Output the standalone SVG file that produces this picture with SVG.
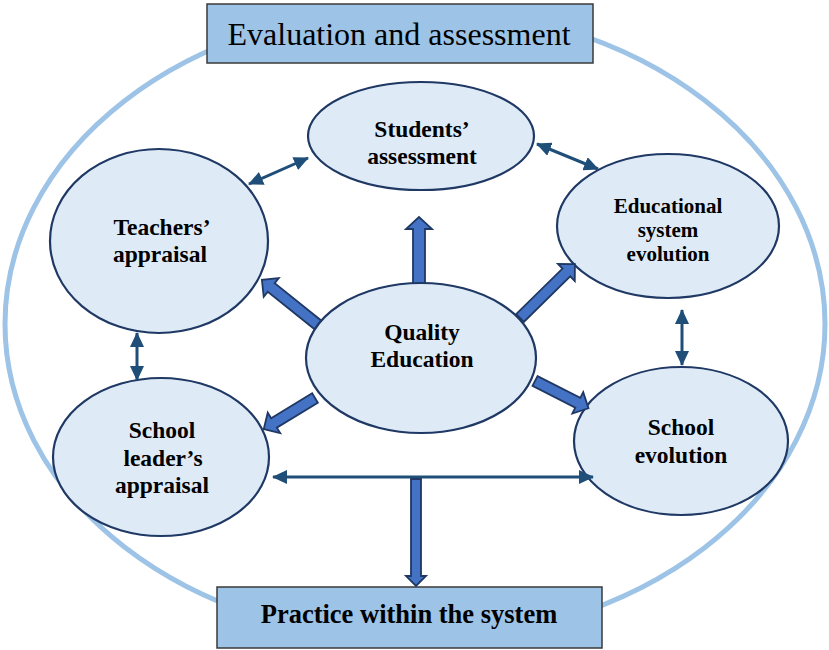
<svg xmlns="http://www.w3.org/2000/svg" width="829" height="650" viewBox="0 0 829 650">
  <style>
    .ring { fill: none; stroke: #9DC3E6; stroke-width: 5; }
    .box { fill: #9DC3E6; stroke: #3A3A3A; stroke-width: 1.5; }
    .node { fill: #DEEBF7; stroke: #1F3864; stroke-width: 2.2; }
    text { font-family: 'Liberation Serif', 'Times New Roman', serif; fill: #000; text-anchor: middle; }
    .lbl { font-weight: bold; font-size: 23.5px; }
    .link { stroke: #1F4E79; stroke-width: 3; fill: none; marker-start: url(#tip); marker-end: url(#tip); }
    .block { fill: #4472C4; stroke: #1F3864; stroke-width: 1.8; stroke-linejoin: miter; }
  </style>
  <defs>
    <marker id="tip" markerUnits="userSpaceOnUse" viewBox="0 -7 15 14" refX="14" refY="0" markerWidth="15" markerHeight="14" orient="auto-start-reverse">
      <path d="M0,-7 L15,0 L0,7 Z" fill="#1F4E79"/>
    </marker>
  </defs>

  <rect width="829" height="650" fill="#FFFFFF"/>

  <!-- outer frame ring -->
  <ellipse class="ring" cx="415" cy="324" rx="410" ry="316"/>

  <!-- header and footer boxes -->
  <g id="evaluation">
    <rect class="box" x="207" y="4" width="386" height="59"/>
    <text x="399" y="45" font-size="32">Evaluation and assessment</text>
  </g>
  <g id="practice">
    <rect class="box" x="217" y="587" width="385" height="61"/>
    <text class="lbl" x="409" y="623" style="font-size:26.5px">Practice within the system</text>
  </g>

  <!-- outer nodes -->
  <g id="students">
    <ellipse class="node" cx="421" cy="136" rx="113" ry="54"/>
    <text class="lbl" x="422" y="137">Students’</text>
    <text class="lbl" x="422" y="164">assessment</text>
  </g>
  <g id="teachers">
    <ellipse class="node" cx="159" cy="241" rx="109" ry="92"/>
    <text class="lbl" x="162" y="235">Teachers’</text>
    <text class="lbl" x="160" y="262">appraisal</text>
  </g>
  <g id="educational">
    <ellipse class="node" cx="668" cy="226" rx="111" ry="72"/>
    <text class="lbl" x="668" y="213" style="font-size:21px">Educational</text>
    <text class="lbl" x="668" y="237" style="font-size:21px">system</text>
    <text class="lbl" x="668" y="261" style="font-size:21px">evolution</text>
  </g>
  <g id="leader">
    <ellipse class="node" cx="161" cy="457" rx="108" ry="79"/>
    <text class="lbl" x="162" y="438">School</text>
    <text class="lbl" x="163" y="466">leader’s</text>
    <text class="lbl" x="162" y="493">appraisal</text>
  </g>
  <g id="school">
    <ellipse class="node" cx="681" cy="441" rx="107" ry="74"/>
    <text class="lbl" x="681" y="435">School</text>
    <text class="lbl" x="681" y="463">evolution</text>
  </g>

  <!-- connectors -->
  <g id="connectors">
    <line class="link" x1="249" y1="184" x2="308" y2="158"/>
    <line class="link" x1="537" y1="144" x2="598" y2="169"/>
    <line class="link" x1="682" y1="310" x2="682" y2="365"/>
    <line class="link" x1="137" y1="333" x2="137" y2="380"/>
    <line class="link" x1="273" y1="477" x2="593" y2="477"/>
    <!-- block arrows from the centre, drawn along +x then rotated -->
    <path class="block" transform="translate(419,290) rotate(-90)" d="M0,-6 L61,-6 L61,-13 L73,0 L61,13 L61,6 L0,6 Z"/>
    <path class="block" transform="translate(318,325) rotate(-141.2)" d="M0,-5.5 L60,-5.5 L60,-12 L72,0 L60,12 L60,5.5 L0,5.5 Z"/>
    <path class="block" transform="translate(520,318) rotate(-44.5)" d="M0,-5.5 L65,-5.5 L65,-12 L77,0 L65,12 L65,5.5 L0,5.5 Z"/>
    <path class="block" transform="translate(315,398) rotate(148.7)" d="M0,-5.5 L48,-5.5 L48,-12 L60,0 L48,12 L48,5.5 L0,5.5 Z"/>
    <path class="block" transform="translate(535,381) rotate(27)" d="M0,-5.5 L48,-5.5 L48,-12 L60,0 L48,12 L48,5.5 L0,5.5 Z"/>
    <path class="block" transform="translate(416,479) rotate(90)" d="M0,-5 L97,-5 L97,-10 L107,0 L97,10 L97,5 L0,5 Z"/>
  </g>

  <!-- centre node -->
  <g id="quality">
    <ellipse class="node" cx="421" cy="358" rx="115" ry="75"/>
    <text class="lbl" x="422" y="340">Quality</text>
    <text class="lbl" x="422" y="367">Education</text>
  </g>
</svg>
